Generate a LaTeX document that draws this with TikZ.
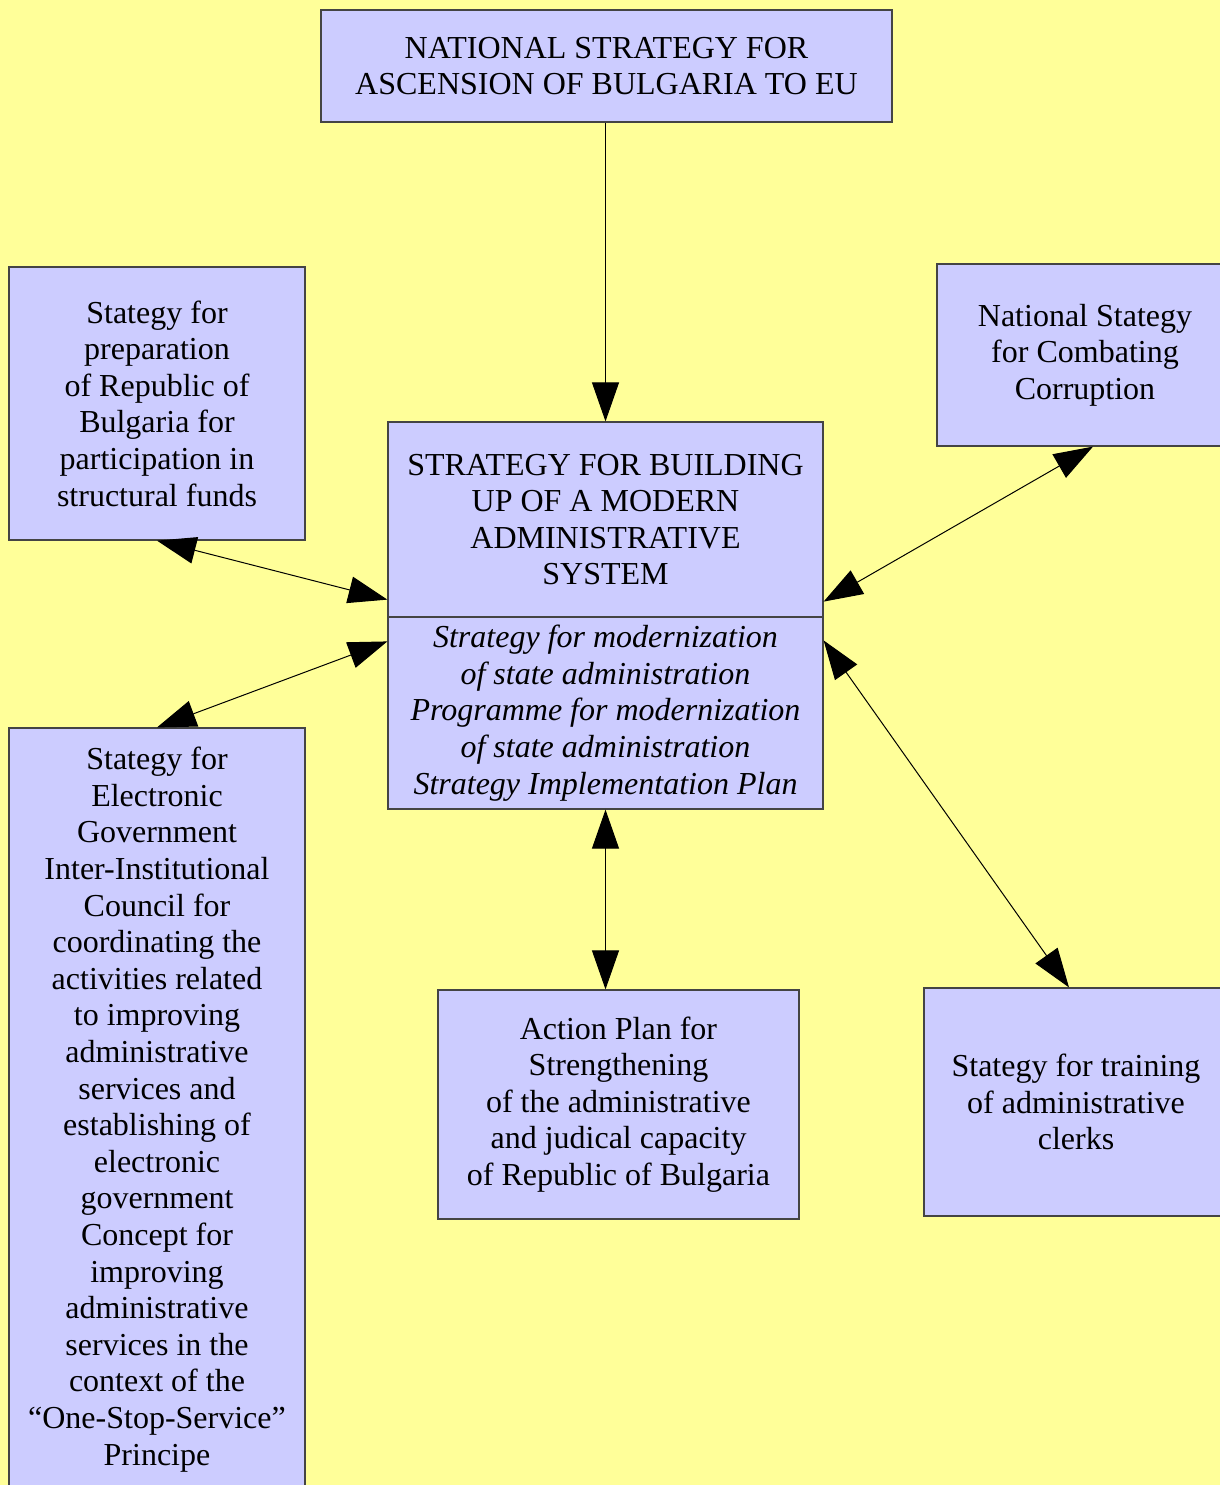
\documentclass[tikz,border=0pt]{standalone}
\usepackage{fontspec}
\setmainfont{Liberation Serif}
\usetikzlibrary{arrows.meta,calc}
\definecolor{bgyellow}{HTML}{FFFF99}
\definecolor{boxblue}{HTML}{CCCCFF}
\definecolor{edgegray}{HTML}{444444}
\begin{document}
\begin{tikzpicture}[x=0.5pt,y=-0.5pt,
  box/.style={draw=edgegray, fill=boxblue, line width=0.6pt, inner sep=0pt, align=center,
    font=\fontsize{16pt}{18.3pt}\selectfont},
  conn/.style={line width=0.5pt, black},
  tipone/.style={conn, -{Triangle[length=19.5pt,width=13.5pt]}},
  tiptwo/.style={conn, {Triangle[length=19.5pt,width=13.5pt]}-{Triangle[length=19.5pt,width=13.5pt]}}]
\useasboundingbox (0,0) rectangle (1220,1485);
\fill[bgyellow] (0,0) rectangle (1220,1485);
\begin{scope}
\clip (0,0) rectangle (1220,1485);
\node[box, minimum width=285.5pt, minimum height=56pt] (top) at (606.5,66)
  {NATIONAL STRATEGY FOR\\ASCENSION OF BULGARIA TO EU};
\node[box, minimum width=148pt, minimum height=136.5pt] (left1) at (157,403.5)
  {Stategy for\\preparation\\of Republic of\\Bulgaria for\\participation in\\structural funds};
\node[box, minimum width=217.5pt, minimum height=97.5pt] (cu) at (605.5,519.5)
  {STRATEGY FOR BUILDING\\UP OF A MODERN\\ADMINISTRATIVE\\SYSTEM};
\node[box, minimum width=217.5pt, minimum height=96pt, font=\fontsize{16pt}{18.3pt}\selectfont\itshape] (cl) at (605.5,713)
  {Strategy for modernization\\of state administration\\Programme for modernization\\of state administration\\Strategy Implementation Plan};
\node[box, minimum width=148pt, minimum height=91pt] (right1) at (1085,355)
  {National Stategy\\for Combating\\Corruption};
\node[box, minimum width=148pt, minimum height=381.5pt] (left2) at (157,1109.5)
  {Stategy for\\Electronic\\Government\\Inter-Institutional\\Council for\\coordinating the\\activities related\\to improving\\administrative\\services and\\establishing of\\electronic\\government\\Concept for\\improving\\administrative\\services in the\\context of the\\“One-Stop-Service”\\Principe};
\node[box, minimum width=180.5pt, minimum height=114.5pt] (bottom) at (618.5,1104.5)
  {Action Plan for\\Strengthening\\of the administrative\\and judical capacity\\of Republic of Bulgaria};
\node[box, minimum width=152pt, minimum height=114pt] (right2) at (1076,1102)
  {Stategy for training\\of administrative\\clerks};
\coordinate (cuL) at ($(cu.south west)+(0,-18)$);
\coordinate (clL) at ($(cl.north west)+(0,25)$);
\coordinate (cuR) at ($(cu.south east)+(0,-16)$);
\coordinate (clR) at ($(cl.north east)+(0,24)$);
\coordinate (r1S) at ($(right1.south)+(8,0)$);
\coordinate (r2N) at ($(right2.north)+(-7,0)$);
\draw[tipone] (cu.north |- top.south) -- (cu.north);
\draw[tiptwo] (left1.south) -- (cuL);
\draw[tiptwo] (left2.north) -- (clL);
\draw[tiptwo] (r1S) -- (cuR);
\draw[tiptwo] (clR) -- (r2N);
\draw[tiptwo] (cl.south) -- (cl.south |- bottom.north);
\end{scope}
\end{tikzpicture}
\end{document}
